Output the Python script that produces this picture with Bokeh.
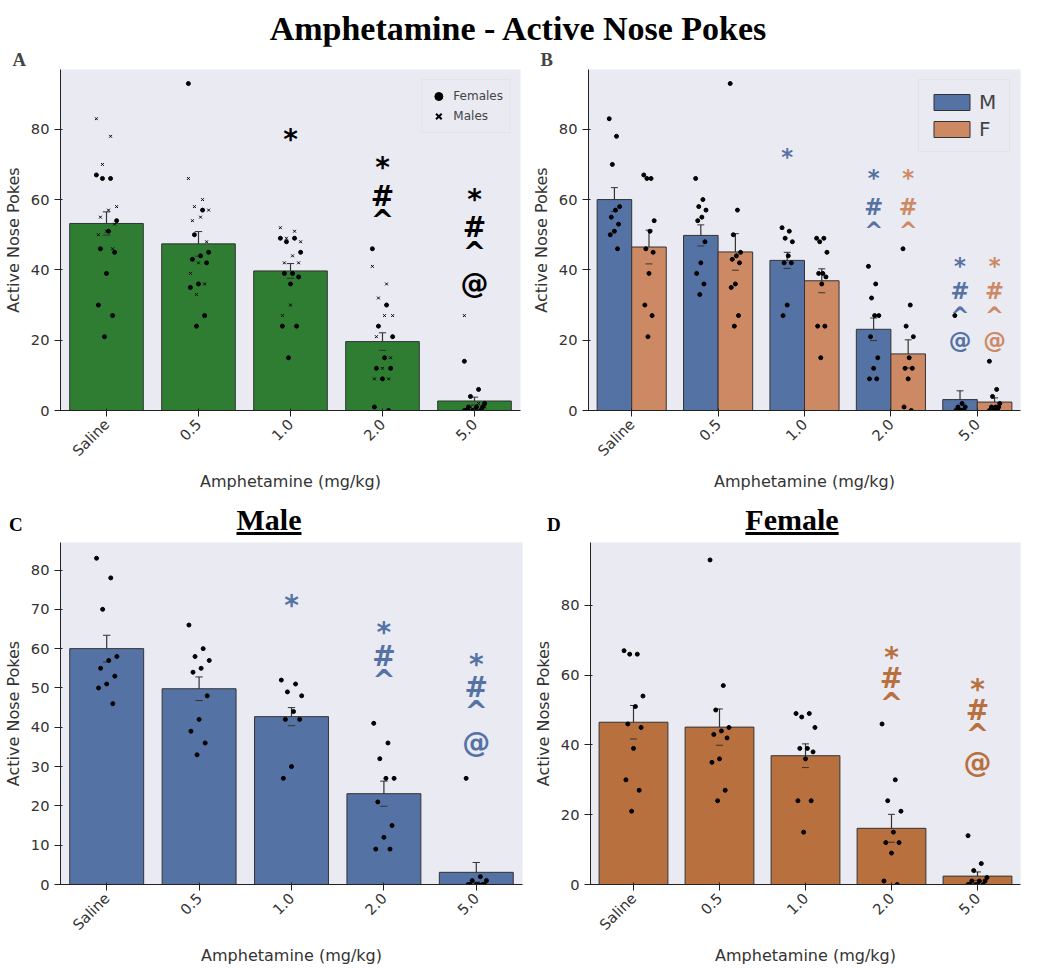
import math
from bokeh.plotting import figure
from bokeh.models import ColumnDataSource, FixedTicker, Legend, LegendItem, Whisker, Div
from bokeh.layouts import column, row
from bokeh.core.properties import value
from bokeh.embed import file_html
from bokeh.resources import INLINE

doses = ["Saline", "0.5", "1.0", "2.0", "5.0"]

male_pts = [
    [83, 78, 70, 58, 57, 55, 53, 51, 50, 46],
    [66, 60, 58, 57, 55, 54, 48, 42, 39, 36, 33],
    [52, 51, 49, 48, 44, 42, 42, 30, 27],
    [41, 36, 32, 27, 27, 21, 15, 12, 9, 9],
    [27, 2, 1, 1, 0, 0, 0, 0, 0, 0],
]
female_pts = [
    [67, 66, 66, 54, 51, 46, 45, 39, 30, 27, 21],
    [93, 57, 50, 45, 44, 43, 42, 36, 35, 27, 24],
    [49, 49, 48, 45, 39, 39, 38, 36, 24, 24, 15],
    [46, 30, 24, 21, 15, 12, 12, 9, 1, 0],
    [14, 6, 4, 2, 1, 1, 1, 0, 0, 0, 0, 0],
]
all_mean = [53.2, 47.4, 39.7, 19.6, 2.7]
all_sem = [3.3, 3.5, 2.1, 2.5, 1.1]
male_mean = [60.0, 49.8, 42.7, 23.1, 3.1]
male_sem = [3.4, 3.0, 2.3, 3.2, 2.5]
female_mean = [46.5, 45.1, 36.9, 16.1, 2.4]
female_sem = [4.8, 5.2, 3.4, 4.0, 1.2]

# significance marks: (dose index, group, symbols, heights)
marks_A = [(2, "", "*", [77]), (3, "", "*#^", [69, 61, 54]), (4, "", "*#^@", [60, 52, 45, 36])]
marks_B = [(2, "M", "*", [72]), (3, "M", "*#^", [66, 58, 51]), (3, "F", "*#^", [66, 58, 51]),
           (4, "M", "*#^@", [41, 34, 27, 20]), (4, "F", "*#^@", [41, 34, 27, 20])]
marks_C = [(2, "", "*", [71]), (3, "", "*#^", [64, 58, 52]), (4, "", "*#^@", [56, 50, 44, 36])]
marks_D = [(3, "", "*#^", [65, 59, 52]), (4, "", "*#^@", [56, 50, 43, 35])]

BG = "#eaeaf2"
GREEN = "#2e7d32"
BLUE = "#5572a4"
ORANGE = "#cd8963"
ORANGE2 = "#b8703f"
FONT = "DejaVu Sans"


def jit(i, spread):
    return (((i * 7) % 11) / 10.0 - 0.5) * spread


def base_fig(w, h, ymax, ticks, letter=None):
    p = figure(width=w, height=h, x_range=(-0.5, 4.5), y_range=(0, ymax),
               output_backend="svg", toolbar_location=None,
               background_fill_color=BG, border_fill_color="white",
               min_border_top=4, min_border_right=8)
    if letter:
        p.title.text = letter
        p.title.align = "left"
        p.title.offset = -48
        p.title.text_font = "Liberation Serif"
        p.title.text_font_size = "14pt"
        p.title.standoff = 0
    p.grid.visible = False
    p.outline_line_color = None
    p.xaxis.ticker = FixedTicker(ticks=list(range(5)))
    p.xaxis.major_label_overrides = {i: d for i, d in enumerate(doses)}
    p.xaxis.major_label_orientation = math.pi / 4
    p.yaxis.ticker = FixedTicker(ticks=ticks)
    for ax in (p.xaxis, p.yaxis):
        ax.axis_line_color = "#222222"
        ax.major_tick_line_color = "#222222"
        ax.minor_tick_line_color = None
        ax.major_label_text_font = FONT
        ax.major_label_text_font_size = "11pt"
        ax.major_label_text_color = "#333333"
        ax.axis_label_text_font = FONT
        ax.axis_label_text_font_size = "12pt"
        ax.axis_label_text_font_style = "normal"
        ax.axis_label_text_color = "#333333"
    p.xaxis.axis_label = "Amphetamine (mg/kg)"
    p.xaxis.axis_label_standoff = 4
    p.yaxis.axis_label = "Active Nose Pokes"
    return p


def bars(p, xs, tops, errs, width, color):
    lo = [t - e for t, e in zip(tops, errs)]
    hi = [t + e for t, e in zip(tops, errs)]
    src = ColumnDataSource(dict(x=xs, top=tops, lo=lo, hi=hi))
    r = p.vbar(x="x", top="top", width=width, fill_color=color, line_color="#333333", source=src)
    p.add_layout(Whisker(base="x", lower="lo", upper="hi", source=src, line_color="#333333",
                         line_width=1.2, upper_head=None, lower_head=None))
    p.segment(x0=[x - 0.04 for x in xs], x1=[x + 0.04 for x in xs], y0=lo, y1=lo, color="#333333")
    p.segment(x0=[x - 0.04 for x in xs], x1=[x + 0.04 for x in xs], y0=hi, y1=hi, color="#333333")
    return r


def dots(p, centers, pts, spread, marker="circle", size=4):
    xs, ys = [], []
    for c, vals in zip(centers, pts):
        for i, v in enumerate(vals):
            xs.append(c + jit(i, spread))
            ys.append(v)
    if marker == "x":
        return p.scatter(xs, ys, marker="x", size=size, color="black", line_width=1)
    return p.scatter(xs, ys, size=size, color="black")


def marks(p, mk, offsets, colors, size):
    for d, g, syms, hs in mk:
        x = d + offsets[g]
        p.text(x=[x] * len(syms), y=hs, text=list(syms), text_align="center", text_baseline="middle",
               text_color=colors[g], text_font=value(FONT), text_font_size=size,
               text_font_style="bold")


# Panel A
pA = base_fig(528, 448, 97, [0, 20, 40, 60, 80], "A")
bars(pA, list(range(5)), all_mean, all_sem, 0.8, GREEN)
dots(pA, list(range(5)), female_pts, 0.22)
dots(pA, list(range(5)), male_pts, 0.22, marker="x", size=4)
marks(pA, marks_A, {"": 0}, {"": "black"}, "21pt")
lf = pA.scatter([-10], [-10], size=7, color="black")
lm = pA.scatter([-10], [-10], marker="x", size=7, color="black", line_width=2)
legA = Legend(items=[LegendItem(label="Females", renderers=[lf]), LegendItem(label="Males", renderers=[lm])],
              location="top_right", label_text_font=FONT, label_text_font_size="9pt",
              background_fill_color=BG, border_line_color="#dddddd", spacing=0, padding=6)
pA.add_layout(legA)

# Panel B
pB = base_fig(500, 448, 97, [0, 20, 40, 60, 80], "B")
off = {"M": -0.2, "F": 0.2}
rbm = bars(pB, [i - 0.2 for i in range(5)], male_mean, male_sem, 0.4, BLUE)
rbf = bars(pB, [i + 0.2 for i in range(5)], female_mean, female_sem, 0.4, ORANGE)
dots(pB, [i - 0.2 for i in range(5)], male_pts, 0.12)
dots(pB, [i + 0.2 for i in range(5)], female_pts, 0.12)
marks(pB, marks_B, off, {"M": BLUE, "F": ORANGE}, "17pt")
legB = Legend(items=[LegendItem(label="M", renderers=[rbm]), LegendItem(label="F", renderers=[rbf])],
              location="top_right", label_text_font=FONT, label_text_font_size="15pt",
              glyph_width=45, glyph_height=20, background_fill_color=BG,
              border_line_color="#dddddd", padding=10)
pB.add_layout(legB)

# Panel C
pC = base_fig(530, 430, 87, [0, 10, 20, 30, 40, 50, 60, 70, 80])
bars(pC, list(range(5)), male_mean, male_sem, 0.8, BLUE)
dots(pC, list(range(5)), male_pts, 0.22)
marks(pC, marks_C, {"": 0}, {"": BLUE}, "21pt")

# Panel D
pD = base_fig(498, 430, 98, [0, 20, 40, 60, 80])
bars(pD, list(range(5)), female_mean, female_sem, 0.8, ORANGE2)
dots(pD, list(range(5)), female_pts, 0.22)
marks(pD, marks_D, {"": 0}, {"": ORANGE2}, "21pt")

serif = "font-family:'Liberation Serif';font-weight:bold;margin:0;"
title = Div(text=f"<div style=\"{serif}font-size:34px;text-align:center;width:1026px\">Amphetamine - Active Nose Pokes</div>",
            width=1026, height=36)


def sub(letter, name, w):
    return Div(text=(f"<div style=\"{serif}position:relative;width:{w}px;height:34px\">"
                     f"<span style=\"position:absolute;left:4px;top:12px;font-size:19px\">{letter}</span>"
                     f"<div style=\"text-align:center;font-size:30px;text-decoration:underline\">{name}</div></div>"),
               width=w, height=34)


subs = row(sub("C", "Male", 528), sub("D", "Female", 498))

layout = column(title, row(pA, pB), subs, row(pC, pD), spacing=0)
open("out.html", "w").write(file_html(layout, INLINE))
